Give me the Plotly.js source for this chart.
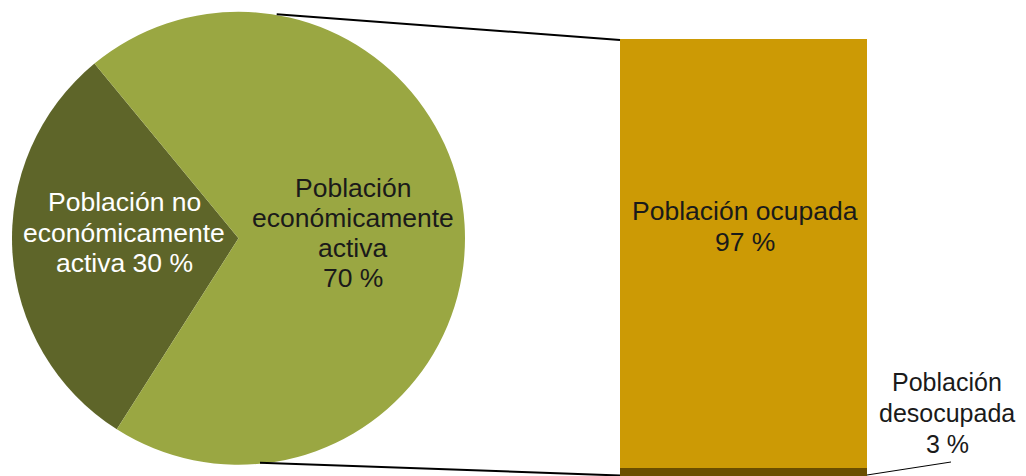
<!DOCTYPE html>
<html>
<head>
<meta charset="utf-8">
<script src="https://cdn.plot.ly/plotly-3.0.1.min.js"></script>
<style>html,body{margin:0;padding:0;background:#fff;}#chart{width:1026px;height:476px;}</style>
</head>
<body>
<div id="chart"></div>
<script>
// Data
const pieLabels = ["Población no económicamente activa", "Población económicamente activa"];
const pieValues = [30, 70];
const barLabels = ["Población desocupada", "Población ocupada"];
const barValues = [3, 97];

const W = 1026, H = 476;
const FONT = "Liberation Sans, Arial, sans-serif";
const FS = 26.5;
const pieColors = ["#5E6529", "#9AA742"];
const barColors = ["#6B4E00", "#CC9A05"];

const barDomain = [620 / W, 867 / W];
const pieDomainX = [12 / W, 465 / W];
const pieDomainY = [(H - 464.8) / H, (H - 11.8) / H];

const traces = [
  {
    type: "pie",
    labels: pieLabels,
    values: pieValues,
    sort: false,
    direction: "counterclockwise",
    rotation: -147.5,
    marker: { colors: pieColors, line: { width: 0 } },
    textinfo: "none",
    hoverinfo: "label+percent",
    domain: { x: pieDomainX, y: pieDomainY },
    showlegend: false
  },
  {
    type: "bar",
    x: [0], y: [barValues[0]], width: [1],
    name: barLabels[0],
    marker: { color: barColors[0], line: { width: 0 } },
    xaxis: "x", yaxis: "y", showlegend: false, hoverinfo: "name+y"
  },
  {
    type: "bar",
    x: [0], y: [barValues[1]], width: [1],
    name: barLabels[1],
    marker: { color: barColors[1], line: { width: 0 } },
    xaxis: "x", yaxis: "y", showlegend: false, hoverinfo: "name+y"
  }
];

const total = barValues[0] + barValues[1];

// Text blocks: lines, center x (px), first line center y (px), line step (px), colour, size
const blocks = [
  { lines: ["Población no", "económicamente", "activa " + pieValues[0] + " %"], x: 124, y0: 202, step: 30.5, color: "#ffffff", size: FS },
  { lines: ["Población", "económicamente", "activa", pieValues[1] + " %"], x: 352.5, y0: 188, step: 30, color: "#1a1a1a", size: FS },
  { lines: ["Población ocupada", Math.round(barValues[1] / total * 100) + " %"], x: 745, y0: 211, step: 31.5, color: "#1a1a1a", size: FS },
  { lines: ["Población", "desocupada", Math.round(barValues[0] / total * 100) + " %"], x: 947, y0: 382, step: 31, color: "#1a1a1a", size: 25 }
];

const annotations = [];
blocks.forEach(b => {
  b.lines.forEach((t, i) => {
    annotations.push({
      xref: "paper", yref: "paper",
      x: b.x / W, y: (H - (b.y0 + i * b.step)) / H,
      xanchor: "center", yanchor: "middle",
      text: t, showarrow: false,
      font: { family: FONT, size: b.size, color: b.color }
    });
  });
});

const layout = {
  width: W, height: H,
  margin: { l: 0, r: 0, t: 0, b: 0 },
  paper_bgcolor: "#ffffff",
  plot_bgcolor: "rgba(0,0,0,0)",
  barmode: "stack",
  font: { family: FONT, size: FS, color: "#1a1a1a" },
  xaxis: { domain: barDomain, range: [-0.5, 0.5], visible: false, fixedrange: true },
  yaxis: { domain: [0, 1], range: [1.2, 108.9], visible: false, fixedrange: true },
  shapes: [
    { type: "line", xref: "paper", yref: "paper",
      x0: 276.7 / W, y0: (H - 14.3) / H, x1: barDomain[0], y1: (H - 40) / H,
      line: { color: "#000000", width: 2 } },
    { type: "line", xref: "paper", yref: "paper",
      x0: 260 / W, y0: (H - 462.8) / H, x1: barDomain[0], y1: (H - 475.5) / H,
      line: { color: "#000000", width: 2 } },
    { type: "line", xref: "paper", yref: "paper",
      x0: barDomain[1], y0: (H - 475) / H, x1: 951 / W, y1: (H - 462) / H,
      line: { color: "#000000", width: 1 } }
  ],
  annotations: annotations
};

Plotly.newPlot("chart", traces, layout, { staticPlot: true, displayModeBar: false });
</script>
</body>
</html>
